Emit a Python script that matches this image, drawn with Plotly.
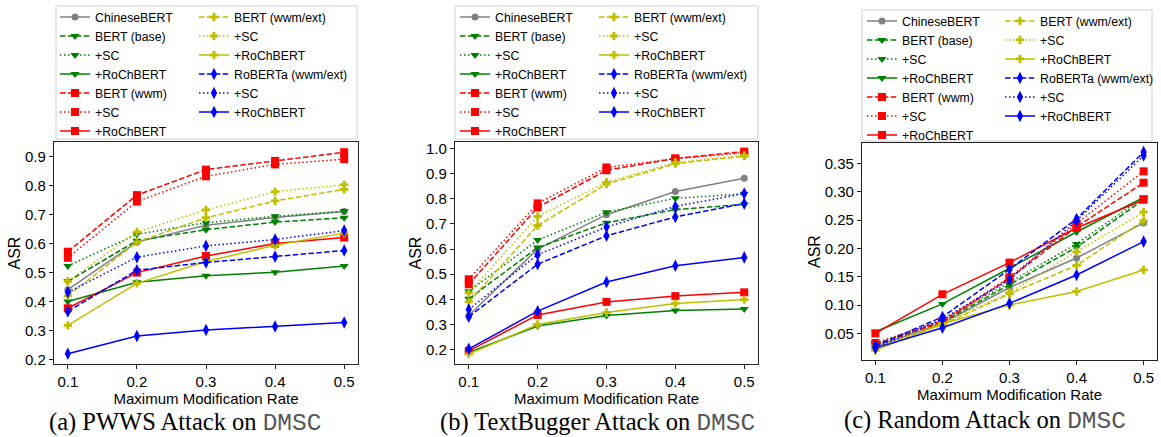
import plotly.graph_objects as go

W, H = 1161, 437

rates = [0.1, 0.2, 0.3, 0.4, 0.5]

series_names = ["ChineseBERT", "BERT (base)", "+SC", "+RoChBERT",
                "BERT (wwm)", "+SC", "+RoChBERT",
                "BERT (wwm/ext)", "+SC", "+RoChBERT",
                "RoBERTa (wwm/ext)", "+SC", "+RoChBERT"]

pwws_asr = [
    [0.441, 0.605, 0.663, 0.690, 0.711],
    [0.470, 0.610, 0.648, 0.674, 0.689],
    [0.523, 0.632, 0.672, 0.694, 0.712],
    [0.400, 0.467, 0.489, 0.501, 0.523],
    [0.572, 0.767, 0.855, 0.885, 0.915],
    [0.551, 0.745, 0.832, 0.873, 0.891],
    [0.377, 0.500, 0.557, 0.600, 0.621],
    [0.420, 0.605, 0.689, 0.747, 0.787],
    [0.470, 0.640, 0.716, 0.779, 0.803],
    [0.318, 0.463, 0.538, 0.594, 0.636],
    [0.366, 0.508, 0.535, 0.555, 0.576],
    [0.432, 0.553, 0.592, 0.614, 0.645],
    [0.220, 0.281, 0.302, 0.314, 0.328],
]

textbugger_asr = [
    [0.336, 0.600, 0.737, 0.829, 0.882],
    [0.402, 0.606, 0.705, 0.757, 0.778],
    [0.432, 0.636, 0.747, 0.802, 0.820],
    [0.189, 0.294, 0.336, 0.356, 0.362],
    [0.460, 0.766, 0.914, 0.961, 0.988],
    [0.480, 0.782, 0.925, 0.960, 0.983],
    [0.195, 0.338, 0.390, 0.413, 0.428],
    [0.390, 0.694, 0.859, 0.940, 0.970],
    [0.426, 0.730, 0.866, 0.945, 0.973],
    [0.182, 0.300, 0.348, 0.384, 0.399],
    [0.331, 0.540, 0.653, 0.728, 0.781],
    [0.360, 0.578, 0.688, 0.770, 0.821],
    [0.203, 0.353, 0.469, 0.534, 0.567],
]

random_asr = [
    [0.027, 0.068, 0.131, 0.183, 0.245],
    [0.030, 0.070, 0.136, 0.202, 0.286],
    [0.032, 0.073, 0.140, 0.208, 0.290],
    [0.053, 0.102, 0.165, 0.229, 0.290],
    [0.030, 0.070, 0.147, 0.238, 0.316],
    [0.033, 0.072, 0.149, 0.244, 0.336],
    [0.050, 0.119, 0.175, 0.236, 0.286],
    [0.025, 0.065, 0.120, 0.170, 0.249],
    [0.028, 0.068, 0.122, 0.194, 0.264],
    [0.020, 0.067, 0.100, 0.124, 0.162],
    [0.028, 0.079, 0.163, 0.252, 0.370],
    [0.025, 0.075, 0.145, 0.249, 0.364],
    [0.024, 0.060, 0.103, 0.153, 0.212],
]

captions = ["(a) PWWS Attack on ", "(b) TextBugger Attack on ", "(c) Random Attack on "]
dataset_name = "DMSC"
x_title = "Maximum Modification Rate"
y_title = "ASR"

# styles
colors = ["#808080", "#008000", "#008000", "#008000", "#ff0000", "#ff0000", "#ff0000",
          "#bfbf00", "#bfbf00", "#bfbf00", "#0000ff", "#0000ff", "#0000ff"]
symbols = ["circle", "triangle-down", "triangle-down", "triangle-down",
           "square", "square", "square", "cross", "cross", "cross",
           "diamond-tall", "diamond-tall", "diamond-tall"]
msizes = [7, 8, 8, 8, 8, 8, 8, 7, 7, 7, 9, 9, 9]
DASH = "5.5px,2.4px"
DOT = "1.5px,2.5px"
dashes = ["solid", DASH, DOT, "solid", DASH, DOT, "solid", DASH, DOT, "solid", DASH, DOT, "solid"]

FONT = "Liberation Sans, Arial, sans-serif"

# panel geometry (pixels)
panels = [
    dict(x0=54, x1=358, y0=142, y1=367, yr=[0.185, 0.95], tv=[0.2, 0.3, 0.4, 0.5, 0.6, 0.7, 0.8, 0.9], fmt=".1f",
         data=pwws_asr, leg1=55, leg2=194, legtop=0.5, box=(56, 357, 4, 139), cap_x=185, cap_y=426),
    dict(x0=455, x1=758, y0=142, y1=367, yr=[0.143, 1.026], tv=[0.2, 0.3, 0.4, 0.5, 0.6, 0.7, 0.8, 0.9, 1.0], fmt=".1f",
         data=textbugger_asr, leg1=455, leg2=594, legtop=0.5, box=(455, 758, 4, 139), cap_x=597, cap_y=426),
    dict(x0=862, x1=1157, y0=143, y1=363, yr=[0.003, 0.386], tv=[0.05, 0.10, 0.15, 0.20, 0.25, 0.30, 0.35], fmt=".2f",
         data=random_asr, leg1=862, leg2=1000, legtop=4.5, box=(862, 1152, 8, 141), cap_x=985, cap_y=424),
]

fig = go.Figure()
layout = dict(width=W, height=H, margin=dict(l=0, r=0, t=0, b=0),
              paper_bgcolor="white", plot_bgcolor="white", showlegend=True,
              font=dict(family=FONT, color="black"))
shapes = []
annotations = []

for p_i, p in enumerate(panels):
    ax = "" if p_i == 0 else str(p_i + 1)
    for s_i, name in enumerate(series_names):
        leg_idx = p_i * 2 + (1 if s_i < 7 else 2)
        leg = "legend" if leg_idx == 1 else "legend%d" % leg_idx
        fig.add_trace(go.Scatter(
            x=rates, y=p["data"][s_i], name=name, mode="lines+markers",
            xaxis="x" + ax, yaxis="y" + ax, legend=leg,
            line=dict(color=colors[s_i], width=1.5, dash=dashes[s_i]),
            marker=dict(symbol=symbols[s_i], size=msizes[s_i], color=colors[s_i],
                        line=dict(width=0)),
        ))
    axis_common = dict(showline=True, linecolor="#222", linewidth=1.3, mirror=True,
                       ticks="outside", ticklen=4, tickwidth=1, tickcolor="#222",
                       showgrid=False, zeroline=False,
                       tickfont=dict(family=FONT, size=15, color="black"))
    layout["xaxis" + ax] = dict(axis_common, domain=[p["x0"] / W, p["x1"] / W],
                                anchor="y" + ax, range=[0.08, 0.52],
                                tickvals=rates, tickformat=".1f",
                                title=dict(text=x_title, font=dict(size=15), standoff=1))
    layout["yaxis" + ax] = dict(axis_common, domain=[1 - p["y1"] / H, 1 - p["y0"] / H],
                                anchor="x" + ax, range=p["yr"],
                                tickvals=p["tv"], tickformat=p["fmt"],
                                title=dict(text=y_title, font=dict(size=16), standoff=0))
    for k, lx in enumerate([p["leg1"], p["leg2"]]):
        idx = p_i * 2 + k + 1
        key = "legend" if idx == 1 else "legend%d" % idx
        layout[key] = dict(x=lx / W, y=1 - p["legtop"] / H, xanchor="left", yanchor="top",
                           orientation="v", bgcolor="rgba(0,0,0,0)", borderwidth=0,
                           itemwidth=30, tracegroupgap=0,
                           font=dict(family=FONT, size=12.3, color="black"))
    bx0, bx1, by0, by1 = p["box"]
    shapes.append(dict(type="rect", xref="paper", yref="paper",
                       x0=bx0 / W, x1=bx1 / W, y0=1 - by1 / H, y1=1 - by0 / H,
                       line=dict(color="#cfcfcf", width=1), fillcolor="rgba(0,0,0,0)", layer="below"))
    annotations.append(dict(
        xref="paper", yref="paper", x=p["cap_x"] / W, y=1 - p["cap_y"] / H,
        xanchor="center", yanchor="middle", showarrow=False,
        text=captions[p_i] + "<span style='font-family:Liberation Mono, DejaVu Sans Mono, monospace;fill:#555'>"
             + dataset_name + "</span>",
        font=dict(family="Liberation Serif, Times New Roman, serif", size=24.5, color="black")))

layout["shapes"] = shapes
layout["annotations"] = annotations
fig.update_layout(**layout)
fig.write_html("out.html", config={"displayModeBar": False},
               post_script="document.body.style.margin='0';document.body.style.padding='0';")
